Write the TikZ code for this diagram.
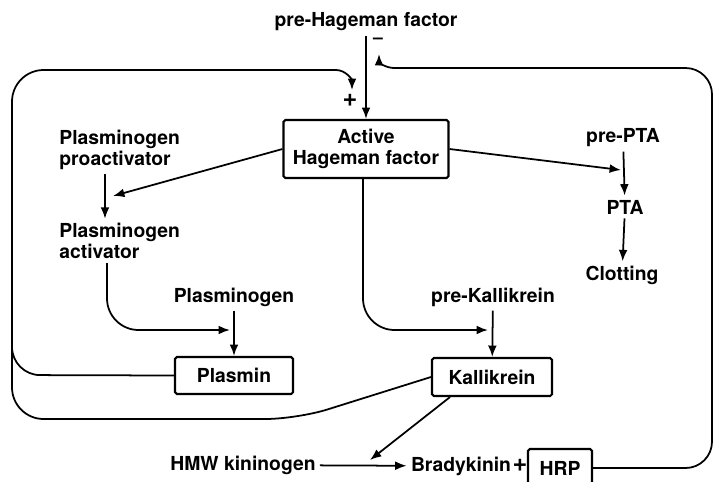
\documentclass[tikz,border=0pt]{standalone}
\usepackage{fontspec}
\setmainfont{TeX Gyre Heros}
\usetikzlibrary{arrows.meta}
\usetikzlibrary{positioning}

\tikzset{
  lbl/.style={font=\bfseries\fontsize{11}{12}\selectfont,inner sep=2pt},
  factorbox/.style={lbl,draw,line width=1.2pt,rounded corners=1pt},
  flow/.style={-{Latex[length=6.5pt,width=5pt]},line width=1pt}
}

\begin{document}
\begin{tikzpicture}[x=0.02cm,y=-0.02cm,line width=1pt]
  \clip (0,0) rectangle (720,481);

  \node[lbl] (phf) at (366,22) {pre-Hageman factor};
  \node[factorbox,minimum width=3.3cm,minimum height=1.16cm,align=center] (hf) at (366,149) {Active\\Hageman factor};
  \node[lbl,align=left,anchor=west] (ppa) at (55,150) {Plasminogen\\proactivator};
  \node[lbl,align=left,anchor=west] (pa) at (55,241) {Plasminogen\\activator};
  \node[lbl] (prepta) at (623,138) {pre-PTA};
  \node[lbl] (pta) at (625,207) {PTA};
  \node[lbl] (clot) at (622,275) {Clotting};
  \node[lbl] (pgn) at (234,297) {Plasminogen};
  \node[factorbox,minimum width=2.36cm,minimum height=0.74cm] (plasmin) at (234,375.5) {Plasmin};
  \node[lbl] (pk) at (493,297) {pre-Kallikrein};
  \node[factorbox,minimum width=2.4cm,minimum height=0.76cm] (kal) at (492,377) {Kallikrein};
  \node[lbl] (hmw) at (243,465) {HMW kininogen};
  \node[lbl] (brady) at (461,466) {Bradykinin};
  \node[lbl,font=\bfseries\Large,inner sep=0pt] (plus) at (520,465) {+};
  \node[factorbox,minimum width=1.28cm,minimum height=0.76cm] (hrp) at (560,468) {HRP};
  \node[lbl,font=\bfseries\Large,inner sep=0pt] (pos) at (350,100) {+};
  \node[lbl,font=\bfseries,inner sep=0pt] (neg) at (378,41) {--};

  \coordinate (ppa-in) at (113,196);
  \coordinate (pta-in) at (621,170);
  \coordinate (pgn-in) at (230,330);
  \coordinate (pk-in) at (488,330);
  \coordinate (bk-in) at (370,460);
  \coordinate (pos-in) at (352,90);
  \coordinate (neg-in) at (379,54);

  \draw[flow] (phf) -- (hf);
  \draw[flow] (hf.west) -- (ppa-in);
  \draw[flow] (hf.east) -- (pta-in);
  \draw[flow] (105,0 |- ppa.south) -- (105,0 |- pa.north);
  \draw[flow] (prepta) -- (pta);
  \draw[flow] (pta) -- (clot);
  \draw[flow,rounded corners=18pt] (107,0 |- pa.south) -- (107,330) -- (pgn-in);
  \draw[flow] (pgn) -- (plasmin);
  \draw[flow,rounded corners=18pt] (363,0 |- hf.south) -- (363,330) -- (pk-in);
  \draw[flow] (pk) -- (kal);
  \draw[flow] (450,0 |- kal.south) -- (bk-in);
  \draw[flow] (hmw) -- (brady);

  \draw[rounded corners=18pt] (kal.west) -- (297,419) -- (12,419) -- (12,70) -- (336,70);
  \draw[flow] (336,70) to[out=0,in=90] (pos-in);
  \draw[rounded corners=16pt] (plasmin.west) -- (12,375) -- (12,340);
  \draw[rounded corners=15pt] (hrp.east) -- (712,468) -- (712,68) -- (394,68);
  \draw[flow] (394,68) to[out=180,in=-90] (neg-in);
\end{tikzpicture}
\end{document}
